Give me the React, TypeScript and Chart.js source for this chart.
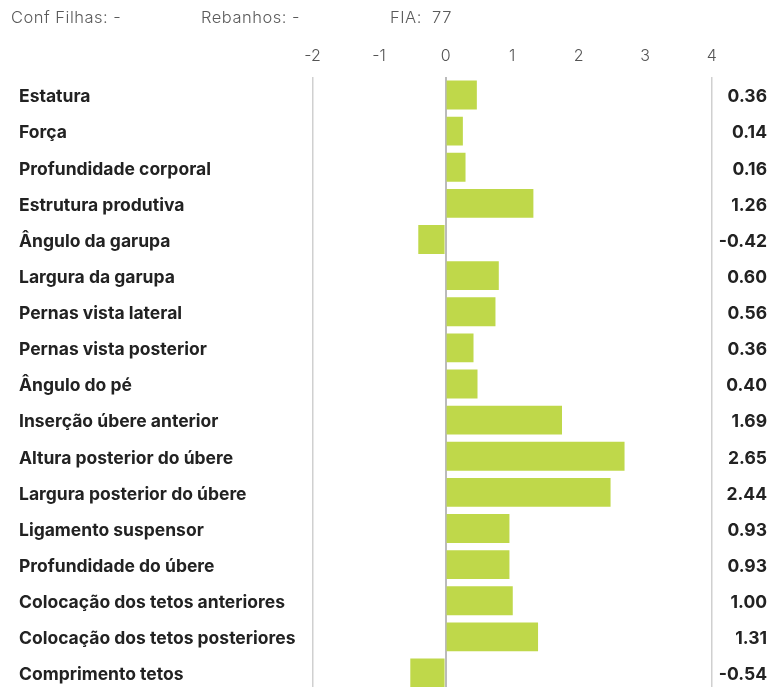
import React, { useEffect, useRef } from 'react';
import { Chart, registerables } from 'chart.js';

Chart.register(...registerables);

const traits = [
  'Estatura',
  'Força',
  'Profundidade corporal',
  'Estrutura produtiva',
  'Ângulo da garupa',
  'Largura da garupa',
  'Pernas vista lateral',
  'Pernas vista posterior',
  'Ângulo do pé',
  'Inserção úbere anterior',
  'Altura posterior do úbere',
  'Largura posterior do úbere',
  'Ligamento suspensor',
  'Profundidade do úbere',
  'Colocação dos tetos anteriores',
  'Colocação dos tetos posteriores',
  'Comprimento tetos',
];

// bar lengths
const barValues = [0.47, 0.26, 0.3, 1.32, -0.41, 0.8, 0.75, 0.42, 0.48, 1.75, 2.69, 2.48, 0.96, 0.96, 1.01, 1.39, -0.53];

// values printed on the right
const valueLabels = ['0.36', '0.14', '0.16', '1.26', '-0.42', '0.60', '0.56', '0.36', '0.40', '1.69', '2.65', '2.44', '0.93', '0.93', '1.00', '1.31', '-0.54'];

const xMin = -2;
const xMax = 4;

const headerItems = [
  { text: 'Conf Filhas: -', left: 11 },
  { text: 'Rebanhos: -', left: 201 },
  { text: 'FIA:  77', left: 390 },
];

const FONT = "Inter, 'Open Sans', sans-serif";
const W = 773;
const H = 694;

export default function App() {
  const canvasRef = useRef<HTMLCanvasElement | null>(null);

  useEffect(() => {
    if (!canvasRef.current) return;
    const noPad = (axis: any) => {
      axis.paddingTop = 0;
      axis.paddingBottom = 0;
    };
    const chart = new Chart(canvasRef.current, {
      type: 'bar',
      data: {
        labels: traits,
        datasets: [
          {
            data: barValues,
            backgroundColor: '#BFD84A',
            borderWidth: 0,
            barPercentage: 0.8,
            categoryPercentage: 1,
          },
        ],
      },
      options: {
        indexAxis: 'y',
        animation: false,
        responsive: false,
        maintainAspectRatio: false,
        layout: { padding: { left: 19, right: 6, top: 0, bottom: 3 } },
        plugins: {
          legend: { display: false },
          tooltip: { enabled: false },
        },
        scales: {
          x: {
            type: 'linear',
            position: 'top',
            min: xMin,
            max: xMax,
            ticks: {
              stepSize: 1,
              color: '#555',
              padding: 11,
              font: { family: FONT, size: 16, weight: 300 },
            },
            grid: {
              drawTicks: false,
              color: (ctx: any) => {
                const v = ctx.tick ? ctx.tick.value : null;
                if (v === 0) return '#bbbbbb';
                if (v === xMin || v === xMax) return '#d0d0d0';
                return 'rgba(0,0,0,0)';
              },
              lineWidth: (ctx: any) => {
                const v = ctx.tick ? ctx.tick.value : null;
                if (v === 0) return 2;
                if (v === xMin || v === xMax) return 1.5;
                return 0;
              },
            },
            border: { display: false },
            afterFit: (axis: any) => {
              axis.height = 77;
            },
          },
          y: {
            type: 'category',
            position: 'left',
            offset: true,
            grid: { display: false },
            border: { display: false },
            ticks: {
              crossAlign: 'far',
              labelOffset: 2,
              color: '#222',
              font: { family: FONT, size: 17.5, weight: 'bold' },
            },
            afterFit: (axis: any) => {
              axis.width = 293.5;
              noPad(axis);
            },
          },
          y2: {
            type: 'category',
            position: 'right',
            labels: valueLabels,
            offset: true,
            grid: { display: false },
            border: { display: false },
            ticks: {
              crossAlign: 'far',
              labelOffset: 2,
              color: '#222',
              font: { family: FONT, size: 17.5, weight: 'bold' },
            },
            afterFit: (axis: any) => {
              axis.width = 55.3;
              noPad(axis);
            },
          },
        },
      } as any,
    });
    return () => chart.destroy();
  }, []);

  return (
    <div style={{ position: 'absolute', left: 0, top: 0, width: W, height: H, background: '#fff' }}>
      {headerItems.map((h) => (
        <span
          key={h.text}
          style={{
            position: 'absolute',
            left: h.left,
            top: 7,
            fontFamily: FONT,
            fontSize: 16.5,
            fontWeight: 300,
            letterSpacing: '0.5px',
            color: '#5a5a5a',
            whiteSpace: 'pre',
            lineHeight: '20px',
          }}
        >
          {h.text}
        </span>
      ))}
      <canvas ref={canvasRef} width={W} height={H} style={{ display: 'block', width: W, height: H }} />
    </div>
  );
}
